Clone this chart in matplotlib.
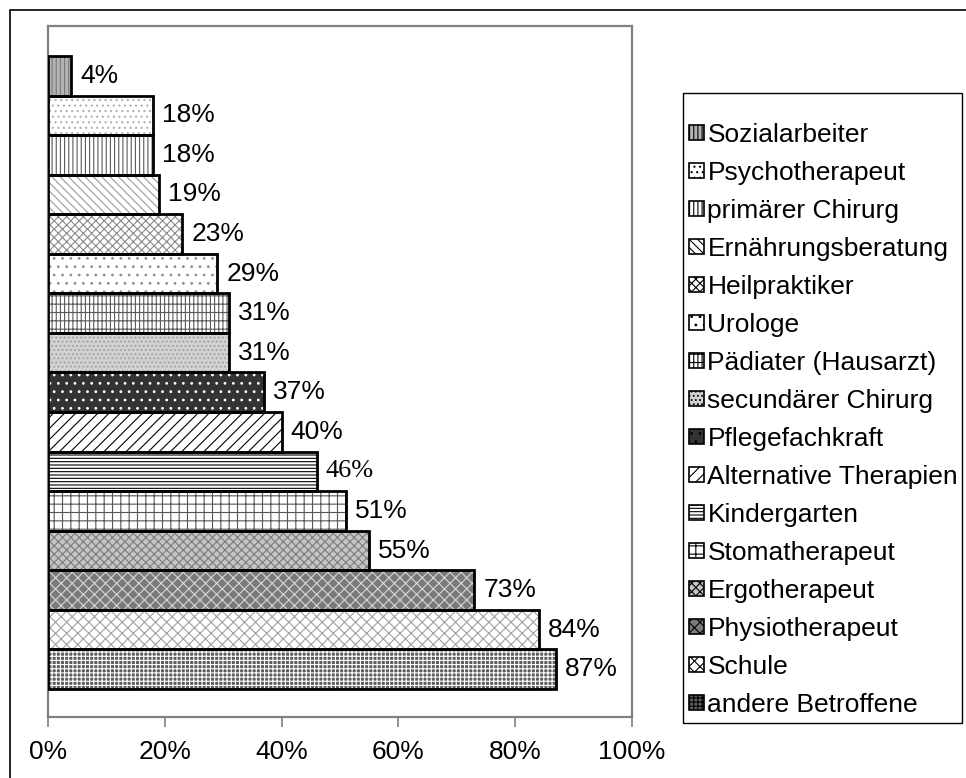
import matplotlib
matplotlib.use("Agg")
import matplotlib.pyplot as plt
from matplotlib.patches import Patch, Rectangle

plt.rcParams['font.family'] = ['Liberation Sans', 'DejaVu Sans']
plt.rcParams['hatch.linewidth'] = 0.8

# Categories listed top to bottom, with shares in percent
categories = [
    "Sozialarbeiter", "Psychotherapeut", "primärer Chirurg", "Ernährungsberatung",
    "Heilpraktiker", "Urologe", "Pädiater (Hausarzt)", "secundärer Chirurg",
    "Pflegefachkraft", "Alternative Therapien", "Kindergarten", "Stomatherapeut",
    "Ergotherapeut", "Physiotherapeut", "Schule", "andere Betroffene",
]
values = [4, 18, 18, 19, 23, 29, 31, 31, 37, 40, 46, 51, 55, 73, 84, 87]
xticks = [0, 20, 40, 60, 80, 100]
xticklabels = ["0%", "20%", "40%", "60%", "80%", "100%"]

# Fill styles per bar: (face colour, hatch, hatch colour)
styles = [
    ("#b4b4b4", "||||", "#7a7a7a"),
    ("#ffffff", "...", "#b0b0b0"),
    ("#ffffff", "||||", "#5a5a5a"),
    ("#ffffff", "\\\\\\\\", "#9a9a9a"),
    ("#ffffff", "xxxx", "#8a8a8a"),
    ("#ffffff", "..", "#909090"),
    ("#ffffff", "||||--", "#5a5a5a"),
    ("#d2d2d2", "....", "#a0a0a0"),
    ("#333333", "..", "#ffffff"),
    ("#ffffff", "///", "#000000"),
    ("#ffffff", "-----", "#000000"),
    ("#ffffff", "++", "#555555"),
    ("#c4c4c4", "xxxx", "#7a7a7a"),
    ("#7a7a7a", "xxx", "#d8d8d8"),
    ("#ffffff", "xxx", "#a0a0a0"),
    ("#5e5e5e", "++++", "#ffffff"),
]

W, H = 966, 778
FS = 19
fig = plt.figure(figsize=(W / 100, H / 100), dpi=100)

# Outer frame around the whole chart
fig.patches.append(Rectangle((10 / W, -0.05), 1.2, 1 - 10 / H + 0.05,
                             transform=fig.transFigure, fill=False,
                             edgecolor="black", linewidth=1.2, zorder=0))

ax = fig.add_axes([48 / W, 1 - 717 / H, (632 - 48) / W, (717 - 26) / H])

pos = list(range(len(categories)))
for i, (v, (fc, hatch, hc)) in enumerate(zip(values, styles)):
    ax.barh(pos[i], v, height=1.0, color=fc, hatch=hatch, edgecolor=hc,
            linewidth=0, zorder=2)
    ax.barh(pos[i], v, height=1.0, fill=False, edgecolor="black",
            linewidth=2.0, zorder=3)
    fam = ['Liberation Serif'] if v == 46 else ['Liberation Sans']
    ax.annotate(f"{v}%", xy=(v, pos[i]), xytext=(6.5, 0),
                textcoords="offset points", ha="left", va="center",
                fontsize=FS, family=fam, zorder=4,
                bbox=dict(boxstyle="square,pad=0.1", fc="white", ec="none")
                if v == 46 else None)

ax.set_xlim(0, 100)
ax.set_ylim(15.5 + 0.708, -0.5 - 0.758)
ax.set_xticks(xticks)
ax.set_xticklabels(xticklabels, fontsize=FS)
ax.set_yticks([])
for sp in ax.spines.values():
    sp.set_color("#808080")
    sp.set_linewidth(1.6)
ax.tick_params(axis="x", direction="out", length=7.5, width=1.2,
               color="#808080", pad=9)

# Legend box drawn separately, entries placed inside it
fig.patches.append(Rectangle((683 / W, 1 - 723 / H), (962 - 683) / W,
                             (723 - 93) / H, transform=fig.transFigure,
                             facecolor="white", edgecolor="black",
                             linewidth=1.0, zorder=1))
handles = [Patch(facecolor=fc, hatch=h, edgecolor="black", linewidth=1.2)
           for fc, h, hc in styles]
leg = fig.legend(handles, categories, loc="upper left",
                 bbox_to_anchor=(689 / W, 1 - 123 / H), borderaxespad=0,
                 fontsize=FS, frameon=False, handlelength=0.55,
                 handleheight=0.5, handletextpad=0.15, labelspacing=0.53,
                 borderpad=0.0)

fig.savefig("out.png", dpi=100)
